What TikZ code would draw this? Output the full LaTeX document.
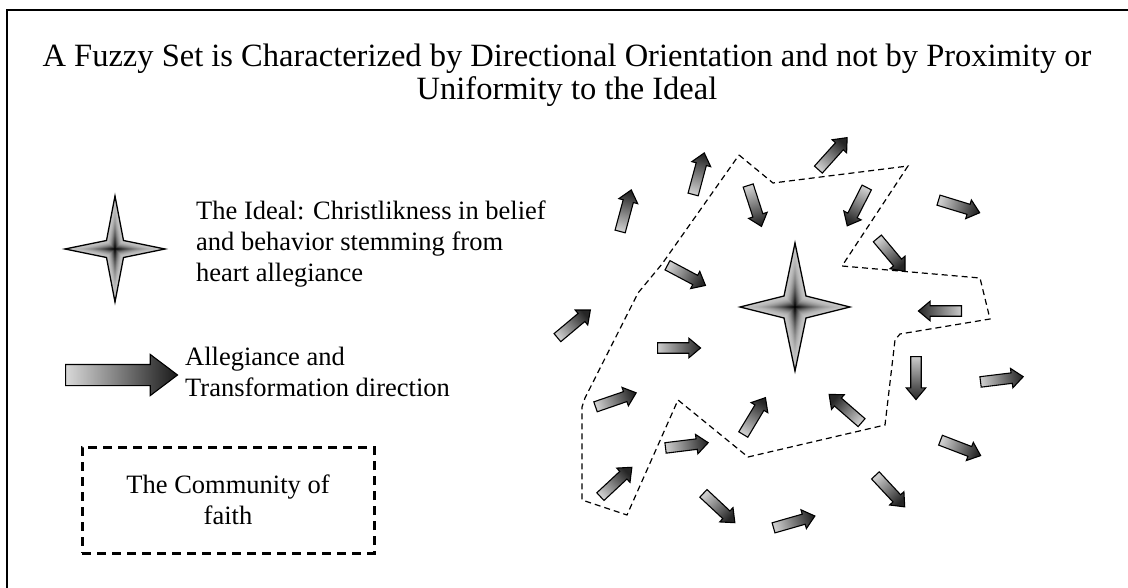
\documentclass[tikz,border=0pt]{standalone}
\usepackage{fontspec}
\setmainfont{Liberation Serif}
\usetikzlibrary{shapes.arrows}

% four-pointed star, filled as nested copies from a grey rim to a black centre
\newcommand\fourstar[5]{%
  \foreach \i in {0,...,29}{
    \pgfmathsetmacro\s{1-\i/30}
    \pgfmathsetmacro\c{22+78*(\i/29)^2}
    \fill[black!\c,shift={(#1,#2)},scale=\s]
      (0,-#4) -- (#5,-#5) -- (#3,0) -- (#5,#5) -- (0,#4) -- (-#5,#5) -- (-#3,0) -- (-#5,-#5) -- cycle;
  }
  \draw[line width=1.3pt,shift={(#1,#2)}]
    (0,-#4) -- (#5,-#5) -- (#3,0) -- (#5,#5) -- (0,#4) -- (-#5,#5) -- (-#3,0) -- (-#5,-#5) -- cycle;
}

\begin{document}
\begin{tikzpicture}[x=1pt,y=-1pt,
   arw/.style={single arrow,draw,line width=1.1pt,anchor=tail,inner xsep=0pt,inner ysep=4.7pt,
     minimum height=43pt,single arrow head extend=4.5pt,
     single arrow tip angle=80,left color=black!20,right color=black!85},
   txt/.style={inner sep=0pt,font=\fontsize{26.5}{31}\selectfont}]
  \useasboundingbox (0,0) rectangle (1128,588);
  \draw[line width=2pt] (7,588) -- (7,10) -- (1128,10);

  \node[txt,align=center,font=\fontsize{32.5}{33}\selectfont] (title) at (567,75)
    {A Fuzzy Set is Characterized by Directional Orientation and not by Proximity or\\Uniformity to the Ideal};

  % key
  \fourstar{115}{249}{50}{53}{8.5}
  \node[txt,anchor=west,align=left] (idealtext) at (196,244)
    {The Ideal: Christlikness in belief\\and behavior stemming from\\heart allegiance};
  \node[arw,minimum height=112pt,inner ysep=10pt,single arrow head extend=10pt,
    single arrow tip angle=74,left color=black!15,right color=black!90] (keyarrow) at (65,375) {};
  \node[txt,anchor=west,align=left] (arrowtext) at (185,372)
    {Allegiance and\\Transformation direction};
  \node[txt,draw,line width=3pt,dash pattern=on 9pt off 6pt,minimum width=292pt,
    minimum height=106pt,align=center] (faith) at (228,500) {The Community of\\faith};

  % the community
  \draw[line width=1.2pt,dash pattern=on 6pt off 4pt]
    (739,155) -- (773,183) -- (908,166) -- (842,266) -- (980,278) -- (990,319)
    -- (900,334) -- (895,340) -- (885,425) -- (748,457) -- (678,400) -- (627,515)
    -- (582,500) -- (582,407) -- (585,398) -- (638,293) -- (662,264) -- cycle;
  \fourstar{795}{307}{55}{64}{11}

  \foreach \x/\y/\a [count=\n, evaluate=\a as \sa using \a+90] in {620/232/75, 693/195/75,
      818/170/48, 748/185/-72, 867/187/-117, 938/200/-17, 877/238/-50, 667/265/-28,
      557/338/40, 657/348/0, 962/311/180, 595/407/19, 743/435/59, 862/423/139,
      916/356/-90, 980/382/7, 940/440/-21, 665/448/7, 600/497/43, 703/493/-43,
      773/528/16, 875/475/-47}
    \node[arw,rotate=\a,shading angle=\sa] (dir\n) at (\x,\y) {};
\end{tikzpicture}
\end{document}
